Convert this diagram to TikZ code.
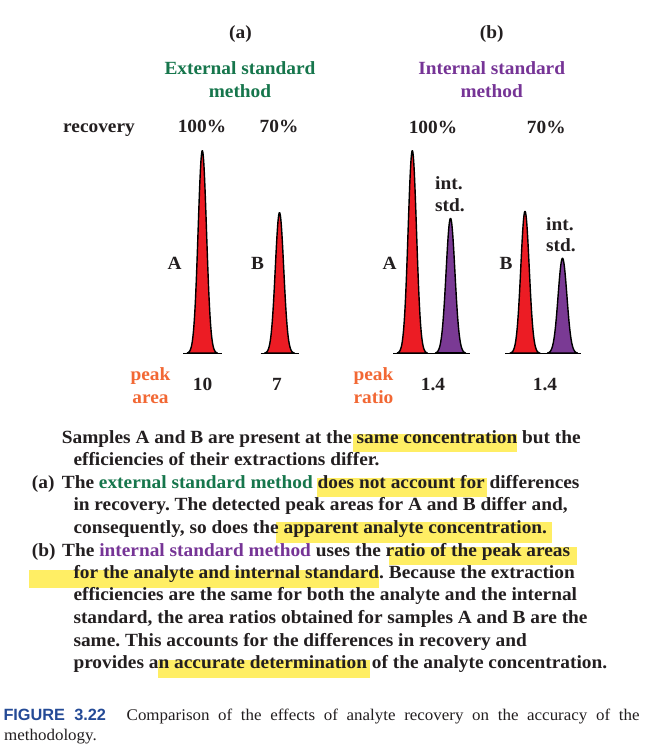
\documentclass[tikz,border=0pt]{standalone}
\usepackage{fontspec}
\setmainfont[FakeStretch=1.04]{Liberation Serif}
\setsansfont{Liberation Sans}
\usepackage{xcolor}
\frenchspacing
\definecolor{extgreen}{RGB}{22,118,76}
\definecolor{intpurple}{RGB}{118,52,150}
\definecolor{peakorange}{RGB}{242,104,52}
\definecolor{peakred}{RGB}{236,28,36}
\definecolor{peakpurple}{RGB}{122,58,148}
\definecolor{hl}{RGB}{255,238,100}
\definecolor{figblue}{RGB}{36,74,150}
\definecolor{ink}{RGB}{35,31,32}
\tikzset{
  lbl/.style={font=\fontsize{18.6}{22}\selectfont\bfseries, text=ink, inner sep=0pt, anchor=base},
  body/.style={font=\fontsize{18.6}{22}\selectfont\bfseries, text=ink, inner sep=0pt, anchor=base west},
  captext/.style={font=\fontsize{16.3}{20}\selectfont, text=ink, inner sep=0pt, anchor=base west},
  hlbox/.style={fill=hl, draw=none},
  peakline/.style={draw=black, line width=1.4pt, line join=round},
}
\newcommand{\drawpeak}[5]{%
  \filldraw[peakline, fill=#5] plot[domain=-15:15, samples=121, smooth]
    ({#1+\x},{#2-#3*exp(-(\x*\x)/(2*#4*#4))}) -- cycle;}
\begin{document}
\begin{tikzpicture}[x=1pt,y=-1pt]
\useasboundingbox (0,0) rectangle (655,749);
\fill[white] (0,0) rectangle (655,749);

% ---- headers
\node[lbl] (ha) at (240.5,39) {(a)};
\node[lbl] (hb) at (491.7,39) {(b)};
\node[lbl, text=extgreen] (ext1) at (240,75) {External standard};
\node[lbl, text=extgreen] (ext2) at (240,97.3) {method};
\node[lbl, text=intpurple] (int1) at (491.7,74.5) {Internal standard};
\node[lbl, text=intpurple] (int2) at (491.7,97.3) {method};
\node[lbl] (rec) at (99,132) {recovery};
\node[lbl] (ra1) at (202,132.5) {100\%};
\node[lbl] (ra2) at (279,132.5) {70\%};
\node[lbl] (rb1) at (433,133) {100\%};
\node[lbl] (rb2) at (546.3,133) {70\%};

% ---- peaks (a)
\draw[peakline] (183,353.3) -- (222,353.3);
\drawpeak{202.3}{353.3}{202.6}{4.2}{peakred}
\draw[peakline] (260.7,353.3) -- (299,353.3);
\drawpeak{279.5}{353.3}{140.6}{4.2}{peakred}
% ---- peaks (b)
\draw[peakline] (393,353.3) -- (470,353.3);
\drawpeak{412.3}{353.3}{202.6}{4.2}{peakred}
\drawpeak{450.5}{353.3}{135}{4.4}{peakpurple}
\draw[peakline] (505,353.3) -- (581,353.3);
\drawpeak{525}{353.3}{142}{4.2}{peakred}
\drawpeak{562.5}{353.3}{95}{4.4}{peakpurple}

% ---- peak labels
\node[lbl] (la) at (174.7,269) {A};
\node[lbl] (lb) at (257.5,269) {B};
\node[lbl] (lba) at (389.5,269) {A};
\node[lbl] (lbb) at (506,269) {B};
\node[body] (is1a) at (435,189.3) {int.};
\node[body] (is1b) at (435,211) {std.};
\node[body] (is2a) at (546,230) {int.};
\node[body] (is2b) at (546,251.7) {std.};

% ---- bottom values
\node[lbl, text=peakorange] (pa1) at (150.5,380.7) {peak};
\node[lbl, text=peakorange] (pa2) at (150.5,403.3) {area};
\node[lbl] (v10) at (202.5,390) {10};
\node[lbl] (v7) at (277,390) {7};
\node[lbl, text=peakorange] (pr1) at (373.5,380.7) {peak};
\node[lbl, text=peakorange] (pr2) at (373.5,403.3) {ratio};
\node[lbl] (v14a) at (433,390) {1.4};
\node[lbl] (v14b) at (545,390) {1.4};

% ---- highlights
\fill[hlbox] (353,434) rectangle (517,452);
\fill[hlbox] (317,478) rectangle (487,497);
\fill[hlbox] (276,522) rectangle (552,543);
\fill[hlbox] (389,547) rectangle (577,565);
\fill[hlbox] (29,570) rectangle (379,588);
\fill[hlbox] (158,660) rectangle (370,678);

% ---- body text
\node[body] (t1) at (61.7,443) {Samples A and B are present at the same concentration but the};
\node[body] (t2) at (73.3,465.5) {efficiencies of their extractions differ.};
\node[body] (pa) at (31.7,488) {(a)};
\node[body] (t3) at (61.7,488) {The \textcolor{extgreen}{external standard method} does not account for differences};
\node[body] (t4) at (73.3,510.7) {in recovery. The detected peak areas for A and B differ and,};
\node[body] (t5) at (73.3,533.3) {consequently, so does the apparent analyte concentration.};
\node[body] (pb) at (31.7,556) {(b)};
\node[body] (t6) at (62,556) {The \textcolor{intpurple}{internal standard method} uses the ratio of the peak areas};
\node[body] (t7) at (73.3,578.3) {for the analyte and internal standard. Because the extraction};
\node[body] (t8) at (73.3,600.8) {efficiencies are the same for both the analyte and the internal};
\node[body] (t9) at (73.3,623.3) {standard, the area ratios obtained for samples A and B are the};
\node[body] (t10) at (73.3,646) {same. This accounts for the differences in recovery and};
\node[body] (t11) at (73.3,668.3) {provides an accurate determination of the analyte concentration.};

% ---- caption
\node[captext] (c1) at (3.3,720.7) {\makebox[636pt][s]{\textcolor{figblue}{\sffamily\bfseries FIGURE 3.22}\hspace{12pt} Comparison of the effects of analyte recovery on the accuracy of the}};
\node[captext] (c2) at (4,740) {methodology.};
\end{tikzpicture}
\end{document}
